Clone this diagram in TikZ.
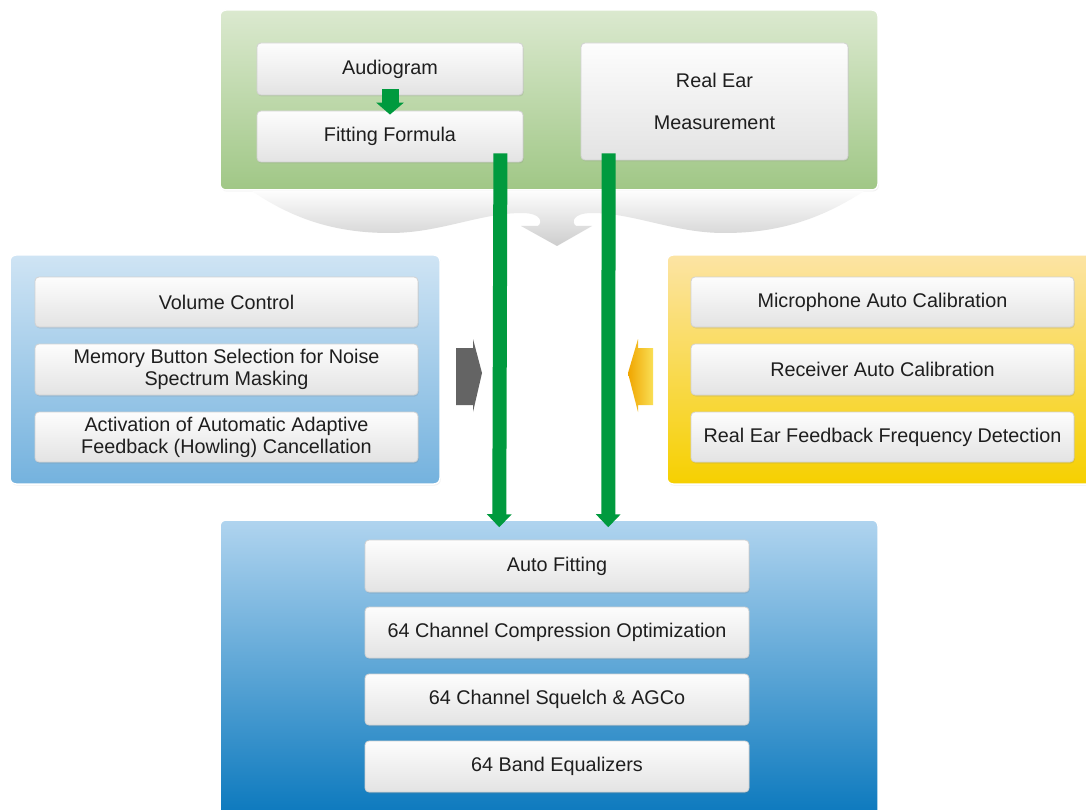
\documentclass[tikz,border=0pt]{standalone}
\usepackage{fontspec}
\setmainfont{Liberation Sans}
\usetikzlibrary{arrows.meta,shadows,calc}
\definecolor{grn}{HTML}{009A3E}
\definecolor{boxline}{HTML}{D2D2D2}
\definecolor{boxtop}{HTML}{FDFDFD}
\definecolor{boxbot}{HTML}{E3E3E3}
\definecolor{txt}{HTML}{1E1E1E}
\begin{document}
\begin{tikzpicture}[x=1pt,y=-1pt,
  box/.style={rectangle,rounded corners=4pt,draw=boxline,line width=0.8pt,
    top color=boxtop,bottom color=boxbot,inner sep=0pt,text=txt,
    font=\fontsize{19.8}{22}\selectfont,align=center,
    drop shadow={opacity=0.18,shadow xshift=0.8pt,shadow yshift=-1.5pt}},
  panel/.style={rectangle,rounded corners=6pt,draw=white,line width=1.5pt,inner sep=0pt,
    drop shadow={opacity=0.12,shadow xshift=0.8pt,shadow yshift=-1.5pt}},
  bigarrow/.style={draw=grn,line width=14pt,line cap=butt,-{Triangle[width=24pt,length=13pt]}},
  smallarrow/.style={draw=grn,line width=17pt,line cap=butt,-{Triangle[width=27pt,length=12pt]}}
]
\useasboundingbox (0,0) rectangle (1086,810);
\clip (0,0) rectangle (1086,810);
\fill[white] (0,0) rectangle (1086,810);

% panels
\node[panel,minimum width=658,minimum height=180,top color={rgb,255:red,219;green,233;blue,207},
  middle color={rgb,255:red,198;green,221;blue,179},bottom color={rgb,255:red,160;green,199;blue,134}] (top) at (549,100) {};
\node[panel,minimum width=430,minimum height=229,top color={rgb,255:red,207;green,228;blue,244},
  middle color={rgb,255:red,168;green,207;blue,236},bottom color={rgb,255:red,116;green,178;blue,222}] (left) at (225,369.5) {};
\node[panel,minimum width=433,minimum height=229,top color={rgb,255:red,252;green,228;blue,164},
  middle color={rgb,255:red,249;green,215;blue,113},bottom color={rgb,255:red,246;green,208;blue,0}] (right) at (883.5,369.5) {};
\node[panel,minimum width=658,minimum height=298,top color={rgb,255:red,176;green,212;blue,239},
  middle color={rgb,255:red,106;green,173;blue,219},bottom color={rgb,255:red,10;green,120;blue,189}] (bottom) at (549,669) {};

% cloud shadow below top panel
\shade[top color={rgb,255:red,253;green,253;blue,253},bottom color={rgb,255:red,205;green,205;blue,205}]
  (252,191) .. controls (300,224) and (345,233) .. (390,233)
  .. controls (440,233) and (480,213) .. (522,213)
  .. controls (541,213) and (543,222) .. (538,226) -- (521,226) -- (557,246) -- (592,226) -- (576,226)
  .. controls (571,222) and (573,213) .. (592,213)
  .. controls (634,213) and (674,233) .. (724,233)
  .. controls (769,233) and (814,224) .. (864,191) -- cycle;

% top boxes
\node[box,minimum width=266,minimum height=52] (aud) at (390,69) {Audiogram};
\node[box,minimum width=266,minimum height=51] (ff) at (390,136.5) {Fitting Formula};
\node[box,minimum width=267,minimum height=117,font=\fontsize{19.8}{42}\selectfont] (rem) at (714.5,101.5) {Real Ear\\Measurement};

% left boxes
\node[box,minimum width=383,minimum height=50] (vc) at (226.5,302) {Volume Control};
\node[box,minimum width=383,minimum height=51] (mb) at (226.5,369.5) {Memory Button Selection for Noise\\Spectrum Masking};
\node[box,minimum width=383,minimum height=50] (aa) at (226.5,437) {Activation of Automatic Adaptive\\Feedback (Howling) Cancellation};

% right boxes
\node[box,minimum width=383,minimum height=50] (mic) at (882.5,302) {Microphone Auto Calibration};
\node[box,minimum width=383,minimum height=51] (rec) at (882.5,369.5) {Receiver Auto Calibration};
\node[box,minimum width=383,minimum height=50] (ref) at (882.5,437) {Real Ear Feedback Frequency Detection};

% bottom boxes
\node[box,minimum width=384,minimum height=52] (af) at (557,566) {Auto Fitting};
\node[box,minimum width=384,minimum height=51] (cc) at (557,632.5) {64 Channel Compression Optimization};
\node[box,minimum width=384,minimum height=51] (sq) at (557,699.5) {64 Channel Squelch \& AGCo};
\node[box,minimum width=384,minimum height=51] (be) at (557,766.5) {64 Band Equalizers};

% side arrows
\fill[fill={rgb,255:red,100;green,100;blue,100}] (456,348) -- (473,348) -- (473,339) -- (482,373) -- (473,412) -- (473,405) -- (456,405) -- cycle;
\shade[left color={rgb,255:red,240;green,165;blue,0},right color={rgb,255:red,249;green,223;blue,85}]
  (653,348) -- (638,348) -- (638,339) -- (628,373) -- (638,412) -- (638,405) -- (653,405) -- cycle;

% connectors
\draw[smallarrow] ($(aud.south)+(0,-6)$) -- ($(ff.north)+(0,4)$);
\draw[bigarrow] ($(ff.south east)+(-23,-9)$) -- ($(bottom.north west)+(280,8)$);
\draw[bigarrow] ($(rem.south west)+(28,-7)$) -- ($(bottom.north west)+(389,8)$);
\end{tikzpicture}
\end{document}
